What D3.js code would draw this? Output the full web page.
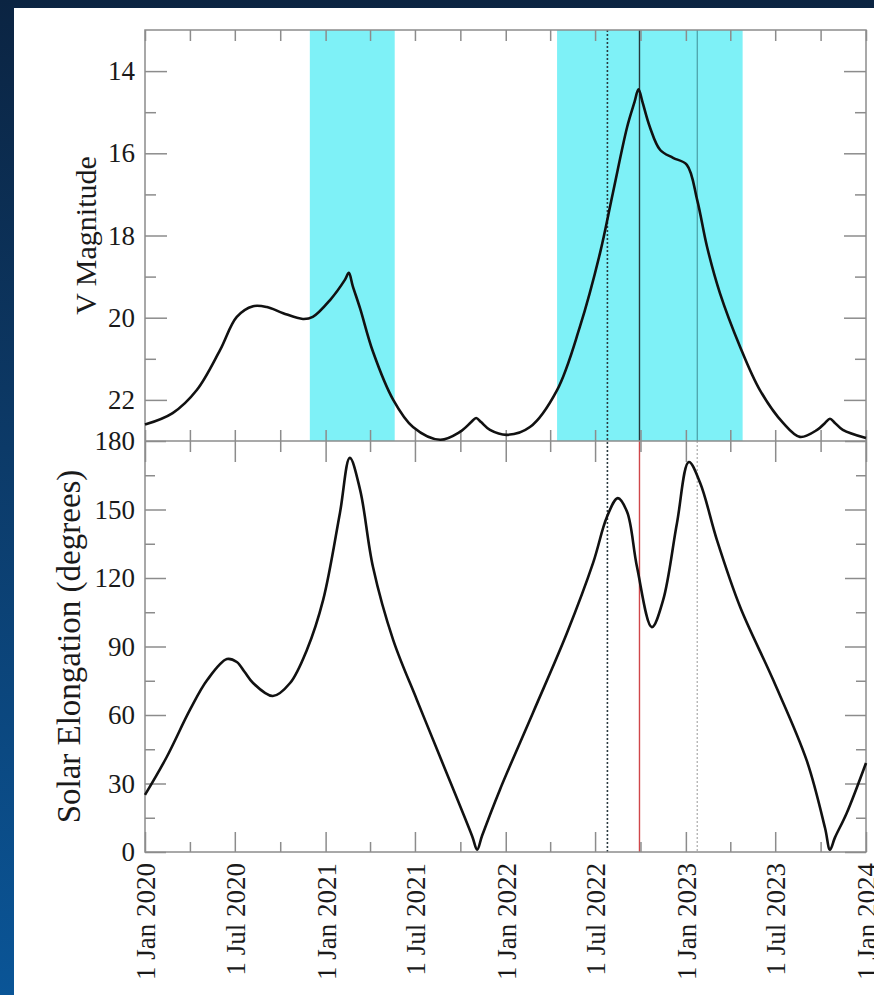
<!DOCTYPE html>
<html>
<head>
<meta charset="utf-8">
<script src="https://cdn.jsdelivr.net/npm/d3@7"></script>
<style>
  html, body { margin: 0; padding: 0; }
  body {
    width: 874px; height: 995px; overflow: hidden;
    background: linear-gradient(180deg, #0b2442 0%, #0c3a68 45%, #0a5597 100%);
  }
  svg { display: block; }
  text { font-family: "Liberation Serif", "Times New Roman", serif; fill: #1a1a1a; }
</style>
</head>
<body>
<svg></svg>
<script>
// V magnitude of the asteroid
var magDates = [
  "2020-01-01", "2020-02-26", "2020-04-15", "2020-06-01", "2020-07-05", "2020-08-07",
  "2020-09-04", "2020-10-07", "2020-11-16", "2020-12-06", "2021-01-10", "2021-02-09",
  "2021-02-17", "2021-02-25", "2021-03-12", "2021-04-07", "2021-05-18", "2021-06-27",
  "2021-08-21", "2021-09-30", "2021-10-23", "2021-11-02", "2021-11-12", "2021-11-30",
  "2022-01-04", "2022-02-19", "2022-04-15", "2022-05-31", "2022-07-11", "2022-08-06",
  "2022-09-04", "2022-09-19", "2022-09-27", "2022-10-05", "2022-10-20", "2022-11-10",
  "2022-12-06", "2023-01-03", "2023-01-24", "2023-02-13", "2023-03-11", "2023-04-21",
  "2023-05-31", "2023-07-17", "2023-08-20", "2023-09-24", "2023-10-10", "2023-10-20",
  "2023-10-30", "2023-11-15", "2024-01-01"
];
var magValues = [
  22.60, 22.32, 21.76, 20.79, 19.98, 19.72,
  19.74, 19.89, 20.03, 19.98, 19.57, 19.08,
  18.91, 19.23, 19.78, 20.83, 22.00, 22.66,
  22.97, 22.78, 22.54, 22.44, 22.54, 22.73,
  22.85, 22.66, 21.76, 20.23, 18.43, 16.97,
  15.36, 14.75, 14.44, 14.75, 15.36, 15.92,
  16.11, 16.28, 17.14, 18.28, 19.40, 20.71,
  21.76, 22.56, 22.90, 22.73, 22.56, 22.46,
  22.56, 22.73, 22.93
];

// solar elongation in degrees (lower panel)
var elongDates = [
  "2020-01-01", "2020-02-14", "2020-04-01", "2020-05-06", "2020-06-15", "2020-07-05",
  "2020-07-21", "2020-08-07", "2020-09-16", "2020-10-21", "2020-11-24", "2020-12-27",
  "2021-01-30", "2021-02-19", "2021-03-12", "2021-04-07", "2021-05-18", "2021-07-05",
  "2021-08-21", "2021-10-25", "2021-11-04", "2021-11-14", "2021-12-20", "2022-02-25",
  "2022-05-05", "2022-06-27", "2022-07-25", "2022-08-16", "2022-09-04", "2022-09-24",
  "2022-10-24", "2022-11-16", "2022-12-14", "2023-01-07", "2023-01-30", "2023-03-05",
  "2023-04-21", "2023-06-27", "2023-09-03", "2023-10-10", "2023-10-20", "2023-10-30",
  "2023-11-23", "2024-01-01"
];
var elongValues = [
  25.0, 41.6, 62.2, 75.3, 84.5, 83.2,
  78.8, 74.0, 68.3, 74.0, 88.5, 110.4,
  148.5, 172.6, 158.5, 124.8, 92.8, 66.6,
  41.6, 6.9, 1.0, 7.1, 27.2, 60.9,
  95.9, 126.6, 146.7, 155.0, 148.9, 124.8,
  98.5, 110.4, 144.1, 170.8, 161.6, 136.6,
  107.3, 75.3, 40.0, 10.5, 1.0, 6.3,
  17.1, 39.0
];

// shaded observing windows and the three marker dates
var windowStarts = ["2020-11-30", "2022-04-15"];
var windowEnds = ["2021-05-21", "2023-04-26"];
var markerDates = ["2022-07-26", "2022-09-29", "2023-01-24"];

// tick values
var xTickDates = ["2020-01-01", "2020-07-01", "2021-01-01", "2021-07-01", "2022-01-01",
  "2022-07-01", "2023-01-01", "2023-07-01", "2024-01-01"];
var xMinorDates = ["2020-04-01", "2020-10-01", "2021-04-01", "2021-10-01", "2022-04-01",
  "2022-10-01", "2023-04-01", "2023-10-01"];
var magTicks = [14, 16, 18, 20, 22];
var magMinor = [15, 17, 19, 21];
var elongTicks = [0, 30, 60, 90, 120, 150, 180];
var elongMinor = [15, 45, 75, 105, 135, 165];

var parse = d3.utcParse("%Y-%m-%d");

function buildChart() {
  var svg = d3.select("svg").attr("width", 874).attr("height", 995);

  // white card on the blue slide
  svg.append("rect")
    .attr("x", 14).attr("y", 8)
    .attr("width", 860).attr("height", 987)
    .attr("fill", "#ffffff");

  var left = 145, right = 866, top = 30, mid = 441, bottom = 852;

  var xScale = d3.scaleUtc()
    .domain([parse("2020-01-01"), parse("2024-01-01")])
    .range([left, right]);
  var magScale = d3.scaleLinear().domain([13, 23]).range([top, mid]);
  var elongScale = d3.scaleLinear().domain([0, 180]).range([bottom, mid]);

  // cyan windows (upper panel only)
  svg.selectAll("rect.window")
    .data(windowStarts)
    .enter()
    .append("rect")
    .attr("class", "window")
    .attr("x", function(d) { return xScale(parse(d)); })
    .attr("y", top)
    .attr("width", function(d, i) { return xScale(parse(windowEnds[i])) - xScale(parse(d)); })
    .attr("height", mid - top)
    .attr("fill", "#7ef1f7");

  // marker lines
  var m0 = xScale(parse(markerDates[0])),
    m1 = xScale(parse(markerDates[1])),
    m2 = xScale(parse(markerDates[2]));

  svg.append("line")
    .attr("x1", m0).attr("x2", m0).attr("y1", top).attr("y2", bottom)
    .attr("stroke", "#2b3a40").attr("stroke-width", 1.6)
    .attr("stroke-dasharray", "2,2");
  svg.append("line")
    .attr("x1", m1).attr("x2", m1).attr("y1", top).attr("y2", mid)
    .attr("stroke", "#24383c").attr("stroke-width", 1.4);
  svg.append("line")
    .attr("x1", m1).attr("x2", m1).attr("y1", mid).attr("y2", bottom)
    .attr("stroke", "#d0474a").attr("stroke-width", 1.4);
  svg.append("line")
    .attr("x1", m2).attr("x2", m2).attr("y1", top).attr("y2", mid)
    .attr("stroke", "#3f8d95").attr("stroke-width", 1);
  svg.append("line")
    .attr("x1", m2).attr("x2", m2).attr("y1", mid).attr("y2", bottom)
    .attr("stroke", "#a9a9a9").attr("stroke-width", 1.2)
    .attr("stroke-dasharray", "2,2");

  // axes
  var axisColor = "#8c8c8c";

  function styleAxis(g) {
    g.select(".domain").remove();
    g.selectAll("line").attr("stroke", axisColor).attr("stroke-width", 1.5);
    g.selectAll("text").style("font-size", "27px").attr("fill", "#1a1a1a");
  }

  function xAxis(gen, y, dates, size, labels) {
    var a = gen(xScale)
      .tickValues(dates.map(parse))
      .tickSize(size)
      .tickSizeOuter(0);
    if (!labels) a.tickFormat("");
    else a.tickFormat(d3.utcFormat("%-d %b %Y")).tickPadding(11);
    return svg.append("g")
      .attr("transform", "translate(0," + y + ")")
      .call(a)
      .call(styleAxis);
  }

  function yAxis(gen, x, scale, values, size, labels) {
    var a = gen(scale)
      .tickValues(values)
      .tickSize(size)
      .tickSizeOuter(0);
    if (!labels) a.tickFormat("");
    else a.tickPadding(10);
    return svg.append("g")
      .attr("transform", "translate(" + x + ",0)")
      .call(a)
      .call(styleAxis);
  }

  // upper panel x ticks (all short)
  xAxis(d3.axisTop, top, xTickDates, -11, false);
  xAxis(d3.axisTop, top, xMinorDates, -11, false);
  xAxis(d3.axisBottom, mid, xTickDates, -11, false);
  xAxis(d3.axisBottom, mid, xMinorDates, -11, false);

  // lower panel x ticks
  xAxis(d3.axisTop, mid, xTickDates, -21, false);
  xAxis(d3.axisTop, mid, xMinorDates, -11, false);
  xAxis(d3.axisBottom, bottom, xMinorDates, -10, false);
  var xLab = xAxis(d3.axisBottom, bottom, xTickDates, -20, true);
  xLab.selectAll("text")
    .attr("transform", "rotate(-90)")
    .attr("text-anchor", "end")
    .attr("x", -11)
    .attr("y", 0)
    .attr("dy", "0.35em");

  // y ticks, labels on the left only
  yAxis(d3.axisLeft, left, magScale, magTicks, -22, true);
  yAxis(d3.axisLeft, left, magScale, magMinor, -11, false);
  yAxis(d3.axisRight, right, magScale, magTicks, -22, false);
  yAxis(d3.axisRight, right, magScale, magMinor, -11, false);

  yAxis(d3.axisLeft, left, elongScale, elongTicks, -21, true);
  yAxis(d3.axisLeft, left, elongScale, elongMinor, -10, false);
  yAxis(d3.axisRight, right, elongScale, elongTicks, -21, false);
  yAxis(d3.axisRight, right, elongScale, elongMinor, -10, false);

  // frames
  svg.append("rect")
    .attr("x", left).attr("y", top)
    .attr("width", right - left).attr("height", bottom - top)
    .attr("fill", "none").attr("stroke", axisColor).attr("stroke-width", 1.5);
  svg.append("line")
    .attr("x1", left).attr("x2", right).attr("y1", mid).attr("y2", mid)
    .attr("stroke", axisColor).attr("stroke-width", 1.5);

  // curves
  var magLine = d3.line()
    .x(function(d) { return xScale(parse(d)); })
    .y(function(d, i) { return magScale(magValues[i]); })
    .curve(d3.curveCatmullRom.alpha(0.5));
  var elongLine = d3.line()
    .x(function(d) { return xScale(parse(d)); })
    .y(function(d, i) { return elongScale(elongValues[i]); })
    .curve(d3.curveCatmullRom.alpha(0.5));

  svg.append("path")
    .attr("d", magLine(magDates))
    .attr("fill", "none")
    .attr("stroke", "#111")
    .attr("stroke-width", 2.6)
    .attr("stroke-linejoin", "round");
  svg.append("path")
    .attr("d", elongLine(elongDates))
    .attr("fill", "none")
    .attr("stroke", "#111")
    .attr("stroke-width", 2.6)
    .attr("stroke-linejoin", "round");

  // axis titles
  svg.append("text")
    .attr("transform", "translate(85," + (top + mid) / 2 + ") rotate(-90)")
    .attr("text-anchor", "middle")
    .attr("dy", "0.35em")
    .style("font-size", "30px")
    .text("V Magnitude");
  svg.append("text")
    .attr("transform", "translate(68," + (mid + bottom) / 2 + ") rotate(-90)")
    .attr("text-anchor", "middle")
    .attr("dy", "0.35em")
    .style("font-size", "33px")
    .text("Solar Elongation (degrees)");
}

buildChart();
</script>
</body>
</html>
